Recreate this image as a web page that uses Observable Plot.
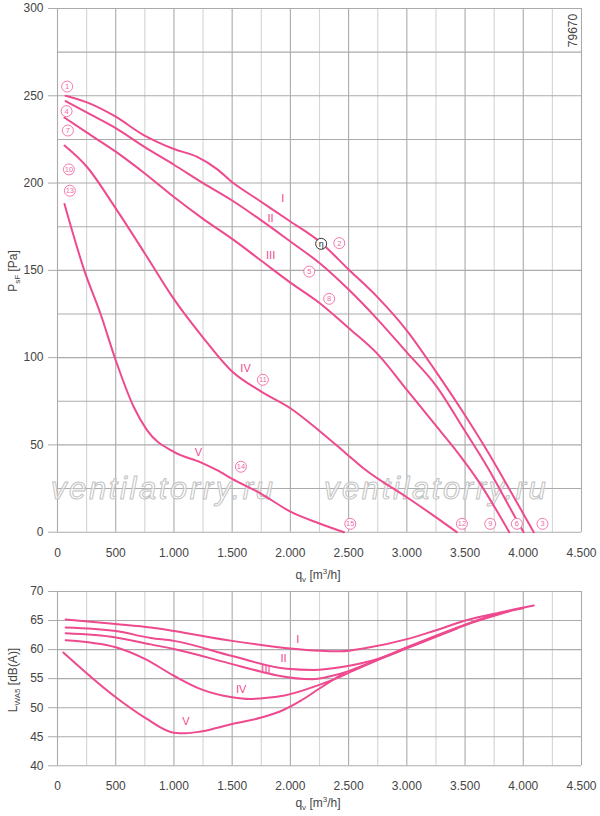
<!DOCTYPE html>
<html><head><meta charset="utf-8">
<script src="https://cdn.jsdelivr.net/npm/d3@7"></script>
<script src="https://cdn.jsdelivr.net/npm/@observablehq/plot@0.6"></script>
<style>body{margin:0;background:#fff;} #chart svg{display:block;}</style>
</head><body><div id="chart"></div>
<script>
// ---- Pressure curves (q_v in m3/h, P_sF in Pa)
const qI   = [70, 280, 500, 740, 860, 1000, 1200, 1370, 1510, 1710, 2000, 2250, 2500, 2750, 3000, 3250, 3490, 3700, 3920, 4090];
const pI   = [250, 245.5, 238, 227.5, 223.5, 219.5, 215, 208, 200, 191, 178, 166.5, 150.5, 134.5, 115.5, 92, 68, 45.5, 20, 0];
const qII  = [70, 250, 500, 750, 1000, 1250, 1500, 1750, 2000, 2250, 2500, 2750, 3000, 3250, 3490, 3690, 3930, 4003];
const pII  = [247, 240.5, 231.5, 220.6, 210.5, 200, 190, 178.6, 166.5, 154.2, 139, 121.8, 103, 84, 59, 37.5, 8.6, 0];
const qIII = [60, 250, 500, 750, 1000, 1250, 1500, 1750, 2000, 2250, 2500, 2750, 3000, 3250, 3400, 3630, 3880];
const pIII = [237.5, 229, 218, 205.5, 192, 179.5, 168, 155.5, 143, 131.3, 117, 102, 81.5, 61, 48.7, 27.7, 0];
const qIV  = [60, 250, 500, 750, 1000, 1250, 1500, 1750, 2000, 2250, 2480, 2630, 3000, 3230, 3430];
const pIV  = [221.5, 209.5, 185.5, 159.7, 133.5, 111.5, 92, 80.5, 71, 58, 45, 36.5, 20, 9.5, 0];
const qV   = [60, 230, 370, 500, 655, 770, 1000, 1230, 1370, 1500, 1750, 2000, 2250, 2460];
const pV   = [188, 150, 125, 98.5, 71.7, 58.3, 46, 40, 35.5, 30.6, 22, 11.8, 5, 0];

// ---- Sound power curves (L_WA5 in dB(A))
const qLI   = [70, 500, 800, 1000, 1500, 1750, 2000, 2250, 2430, 2660, 3000, 3230, 3520, 3800, 4090];
const LI    = [65.2, 64.4, 63.8, 63.2, 61.5, 60.8, 60.2, 59.8, 59.7, 60.3, 61.8, 63.2, 65.1, 66.4, 67.6];
const qLII  = [70, 500, 800, 1000, 1500, 1970, 2200, 2470, 2600, 2750, 3000, 3250, 3500, 3750, 4000];
const LII   = [63.8, 63.2, 62.0, 61.5, 58.9, 56.7, 56.5, 57.1, 57.6, 58.4, 60.4, 62.4, 64.3, 66.0, 67.1];
const qLIII = [70, 500, 800, 1000, 1500, 1750, 1900, 2190, 2360, 2500, 2750, 3000, 3250, 3500, 3880];
const LIII  = [62.8, 62.1, 60.9, 60.1, 57.5, 56.2, 55.5, 54.9, 55.5, 56.3, 58.3, 60.3, 62.3, 64.2, 66.6];
const qLIV  = [70, 500, 750, 1000, 1230, 1500, 1650, 1800, 1950, 2230, 2400, 2500, 2750, 3000, 3250, 3430];
const LIV   = [61.6, 60.4, 58.4, 55.5, 53.2, 51.8, 51.5, 51.7, 52.1, 53.8, 55.1, 56.0, 58.2, 60.2, 62.2, 63.6];
const qLV   = [50, 500, 750, 1000, 1100, 1230, 1500, 1750, 1940, 2090, 2250, 2460];
const LV    = [59.5, 51.8, 48.3, 45.7, 45.6, 45.9, 47.2, 48.3, 49.6, 51.2, 53.3, 56.0];

// ---- Labels
const romanNames = ["I", "II", "III", "IV", "V"];
const romanTopQ = [1935, 1830, 1830, 1615, 1211];
const romanTopP = [191, 179.5, 158.5, 93.6, 45.8];
const romanBotQ = [2064, 1941, 1790, 1578, 1103];
const romanBotL = [61.8, 58.5, 56.6, 53.2, 47.6];

const circN = ["1", "4", "7", "10", "13", "2", "5", "8", "11", "14", "15", "12", "9", "6", "3"];
const circQ = [83, 78, 89, 98, 106, 2420, 2162, 2333, 1764, 1575, 2514, 3473, 3716, 3945, 4165];
const circP = [255.3, 241.2, 230.1, 207.8, 195.6, 165.6, 149.3, 133.7, 87.3, 37.5, 4.8, 4.8, 4.8, 4.8, 4.8];
const etaQ = [2264], etaP = [165.2];

const watermarkText = "ventilatorry.ru";
const wmQ = [908, 3252], wmP = [25.2];

const qTicks = [0, 500, 1000, 1500, 2000, 2500, 3000, 3500, 4000, 4500];
const qMinor = [250, 750, 1250, 1750, 2250, 2750, 3250, 3750, 4250];
const pTicks = [0, 50, 100, 150, 200, 250, 300];
const pGrid = [0, 25, 50, 75, 100, 125, 150, 175, 200, 225, 250, 275, 300];
const LTicks = [40, 45, 50, 55, 60, 65, 70];

const PINK = "#ee4a8e";
const LPINK = "#f26aa7";
const GRID_MAJ = "#ababab";
const GRID_MIN = "#d4d4d4";
const TXT = "#444";
const FONT = "Liberation Sans, Arial, sans-serif";

const fmtQ = d => d3.format(",")(d).replace(/,/g, ".");
const toRows = (names, qs, vs) => names.flatMap((n, i) => qs[i].map((q, j) => ({s: n, q, v: vs[i][j]})));

const topRows = toRows(romanNames, [qI, qII, qIII, qIV, qV], [pI, pII, pIII, pIV, pV]);
const botRows = toRows(romanNames, [qLI, qLII, qLIII, qLIV, qLV], [LI, LII, LIII, LIV, LV]);
const romanTop = romanNames.map((t, i) => ({t, q: romanTopQ[i], v: romanTopP[i]}));
const romanBot = romanNames.map((t, i) => ({t, q: romanBotQ[i], v: romanBotL[i]}));
const circs = circN.map((t, i) => ({t, q: circQ[i], v: circP[i]}));
const wms = wmQ.map(q => ({t: watermarkText, q, v: wmP[0]}));
const etas = etaQ.map((q, i) => ({t: "η", q, v: etaP[i]}));

const gridMarks = (yGrid) => [
  Plot.ruleX(qMinor, {stroke: GRID_MIN, strokeWidth: 1.1}),
  Plot.ruleY(yGrid, {stroke: GRID_MAJ, strokeWidth: 1.1}),
  Plot.ruleX(qTicks, {stroke: GRID_MAJ, strokeWidth: 1.1}),
];

const topSvg = Plot.plot({
  width: 600, height: 583,
  marginLeft: 57, marginRight: 19, marginTop: 8, marginBottom: 51.3,
  style: {fontFamily: FONT, fontSize: "12px", color: TXT, background: "white"},
  x: {domain: [0, 4500]},
  y: {domain: [0, 300]},
  marks: [
    ...gridMarks(pGrid),
    Plot.axisY(pTicks, {tickSize: 9, tickPadding: 5, stroke: GRID_MAJ, fill: TXT, label: null}),
    Plot.axisX(qTicks, {tickSize: 0, tickPadding: 16, tickFormat: fmtQ, fill: TXT, label: null}),
    Plot.text(wms, {x: "q", y: "v", text: "t", fontSize: 31, fontStyle: "italic", fontFamily: FONT,
      fill: "white", fillOpacity: 0.6, stroke: "#c2c2c2", strokeWidth: 1, paintOrder: "fill",
      lineAnchor: "bottom", dy: 11}),
    Plot.line(topRows, {x: "q", y: "v", z: "s", stroke: PINK, strokeWidth: 2, curve: "monotone-x"}),
    Plot.text(romanTop, {x: "q", y: "v", text: "t", fill: PINK, fontSize: 11}),
    Plot.dot(circs, {x: "q", y: "v", r: 5.5, fill: "white", stroke: LPINK, strokeWidth: 0.9}),
    Plot.text(circs, {x: "q", y: "v", text: "t", fill: LPINK, fontSize: 7.5}),
    Plot.dot(etas, {x: "q", y: "v", r: 5.5, fill: "white", stroke: "#222", strokeWidth: 0.9}),
    Plot.text(etas, {x: "q", y: "v", text: "t", fill: "#222", fontSize: 9}),
    Plot.text(["79670"], {frameAnchor: "top-right", dx: -8, dy: 22, rotate: -90, textAnchor: "middle", lineAnchor: "middle", fill: TXT, fontSize: 12}),
  ]
});

const botSvg = Plot.plot({
  width: 600, height: 233,
  marginLeft: 57, marginRight: 19, marginTop: 8, marginBottom: 50.7,
  style: {fontFamily: FONT, fontSize: "12px", color: TXT, background: "white"},
  x: {domain: [0, 4500]},
  y: {domain: [40, 70]},
  marks: [
    ...gridMarks(LTicks),
    Plot.axisY(LTicks, {tickSize: 9, tickPadding: 5, stroke: GRID_MAJ, fill: TXT, label: null}),
    Plot.axisX(qTicks, {tickSize: 0, tickPadding: 16, tickFormat: fmtQ, fill: TXT, label: null}),
    Plot.line(botRows, {x: "q", y: "v", z: "s", stroke: PINK, strokeWidth: 2, curve: "monotone-x"}),
    Plot.text(romanBot, {x: "q", y: "v", text: "t", fill: PINK, fontSize: 11}),
  ]
});

// widen the watermark lettering
d3.select(topSvg).selectAll("text")
  .filter(function () { return this.textContent === watermarkText; })
  .attr("letter-spacing", "2.6px");

function addLabels(svg, xY, yParts, yCenter) {
  const s = d3.select(svg);
  const yl = s.append("text").attr("transform", `translate(17,${yCenter}) rotate(-90)`)
    .attr("text-anchor", "middle").attr("font-size", 12).attr("fill", TXT).attr("font-family", FONT);
  yl.append("tspan").text(yParts[0]);
  yl.append("tspan").attr("font-size", 8).attr("dy", 3).text(yParts[1]);
  yl.append("tspan").attr("dy", -3).text(yParts[2]);
  const xl = s.append("text").attr("x", 318).attr("y", xY)
    .attr("text-anchor", "middle").attr("font-size", 12).attr("fill", TXT).attr("font-family", FONT);
  xl.append("tspan").text("q");
  xl.append("tspan").attr("font-size", 8).attr("dy", 3).text("v");
  xl.append("tspan").attr("dy", -3).text(" [m");
  xl.append("tspan").attr("font-size", 8).attr("dy", -5).text("3");
  xl.append("tspan").attr("dy", 5).text("/h]");
}
addLabels(topSvg, 579, ["P", "sF", " [Pa]"], 271);
addLabels(botSvg, 224, ["L", "WA5", " [dB(A)]"], 97);

document.getElementById("chart").append(topSvg, botSvg);
</script></body></html>
